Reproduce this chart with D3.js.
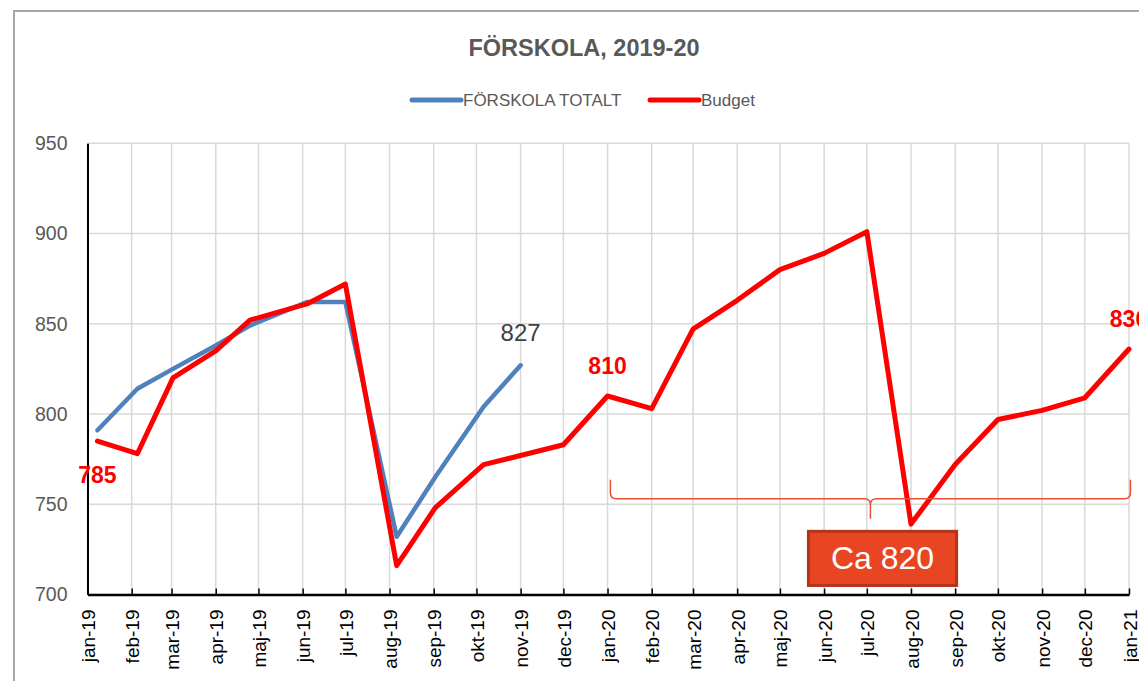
<!DOCTYPE html>
<html lang="sv">
<head>
<meta charset="utf-8">
<script src="https://d3js.org/d3.v7.min.js"></script>
<style>
  body { margin: 0; background: #fff; }
  svg text { font-family: "Liberation Sans", Arial, sans-serif; }
</style>
</head>
<body>
<svg id="chart" width="1139" height="681"></svg>
<script>
// month names used for the x tick labels
var monthNames = ["jan", "feb", "mar", "apr", "maj", "jun", "jul", "aug", "sep", "okt", "nov", "dec"];

// FÖRSKOLA TOTALT (actual), 2019
var actualDates = ["2019-01-08", "2019-02-05", "2019-03-02", "2019-04-01", "2019-04-25", "2019-06-04",
                   "2019-07-01", "2019-08-06", "2019-09-02", "2019-10-06", "2019-11-01"];
var actualValues = [791, 814, 825, 838, 849, 862, 862, 732, 765, 804, 827];

// Budget, 2019 - jan 2021
var budgetDates = ["2019-01-08", "2019-02-05", "2019-03-02", "2019-04-01", "2019-04-25", "2019-06-04",
                   "2019-07-01", "2019-08-06", "2019-09-02", "2019-10-06", "2019-11-01", "2019-12-01",
                   "2020-01-01", "2020-02-01", "2020-03-01", "2020-04-01", "2020-05-01", "2020-06-01",
                   "2020-07-01", "2020-08-01", "2020-09-01", "2020-10-01", "2020-11-01", "2020-12-01",
                   "2021-01-01"];
var budgetValues = [785, 778, 820, 835, 852, 861, 872, 716, 748, 772, 777, 783,
                    810, 803, 847, 863, 880, 889, 901, 739, 772, 797, 802, 809,
                    836];

// points that carry a value label
var budgetLabelIdx = [0, 12, 24];
var actualLabelIdx = [10];

var yTicks = [700, 750, 800, 850, 900, 950];

// annotation: brace over 2020 and the "Ca 820" box
var braceSpan = ["2020-01-03", "2021-01-02"];
var braceLevel = 753;
var noteText = "Ca 820";
var noteSpan = ["2020-05-21", "2020-09-02"];
var noteRange = [705, 735];

var parse = d3.timeParse("%Y-%m-%d");
var actual = actualDates.map((d, i) => ({date: parse(d), value: actualValues[i]}));
var budget = budgetDates.map((d, i) => ({date: parse(d), value: budgetValues[i]}));

var plotL = 87.5, plotR = 1129, plotT = 143.3, plotB = 594.5;

var x = d3.scaleTime()
    .domain([parse("2019-01-01"), parse("2021-01-01")])
    .range([plotL, plotR]);
var y = d3.scaleLinear()
    .domain([700, 950])
    .range([plotB, plotT]);

var svg = d3.select("#chart");

// chart frame
svg.append("rect").attr("x", 14).attr("y", 11).attr("width", 1200).attr("height", 700)
    .attr("fill", "#fff").attr("stroke", "#a6a6a6").attr("stroke-width", 2);

// title
svg.append("text").attr("x", 584).attr("y", 56).attr("text-anchor", "middle")
    .attr("font-size", 23.5).attr("font-weight", "bold").attr("fill", "#595959")
    .text("FÖRSKOLA, 2019-20");

// legend
var legend = [
  {name: "FÖRSKOLA TOTALT", color: "#4f81bd", x: 412},
  {name: "Budget", color: "#ff0000", x: 650}
];
var lg = svg.selectAll("g.legend").data(legend).enter().append("g")
    .attr("class", "legend").attr("transform", d => "translate(" + d.x + ",100)");
lg.append("line").attr("x1", 0).attr("x2", 49).attr("y1", 0).attr("y2", 0)
    .attr("stroke", d => d.color).attr("stroke-width", 5).attr("stroke-linecap", "round");
lg.append("text").attr("x", 51).attr("y", 6).attr("font-size", 17).attr("fill", "#595959")
    .text(d => d.name);

// gridlines
var months = x.ticks(d3.timeMonth.every(1));
svg.append("g").selectAll("line").data(yTicks).enter().append("line")
    .attr("x1", plotL).attr("x2", plotR).attr("y1", d => y(d)).attr("y2", d => y(d))
    .attr("stroke", "#d9d9d9").attr("stroke-width", 1.5);
svg.append("g").selectAll("line").data(months).enter().append("line")
    .attr("x1", d => x(d)).attr("x2", d => x(d)).attr("y1", plotT).attr("y2", plotB)
    .attr("stroke", "#d9d9d9").attr("stroke-width", 1.5);

// y axis
var yAxis = svg.append("g").attr("transform", "translate(" + plotL + ",0)")
    .call(d3.axisLeft(y).tickValues(yTicks).tickSize(0).tickPadding(20));
yAxis.select(".domain").attr("stroke", "#000").attr("stroke-width", 2);
yAxis.selectAll("text").attr("font-size", 19.5).attr("fill", "#595959")
    .attr("font-family", "Liberation Sans, Arial, sans-serif");

// x axis
var xAxis = svg.append("g").attr("transform", "translate(0," + plotB + ")")
    .call(d3.axisBottom(x).tickValues(months).tickSizeInner(-6).tickSizeOuter(0)
      .tickFormat(d => monthNames[d.getMonth()] + "-" + d3.timeFormat("%y")(d)));
xAxis.select(".domain").attr("stroke", "#000").attr("stroke-width", 2.5);
xAxis.selectAll(".tick line").attr("stroke", "#000").attr("stroke-width", 1.5);
xAxis.selectAll("text")
    .attr("transform", "rotate(-90)").attr("text-anchor", "end")
    .attr("x", -15).attr("y", 7).attr("dy", null)
    .attr("font-size", 19).attr("fill", "#000")
    .attr("font-family", "Liberation Sans, Arial, sans-serif");

// lines
var line = d3.line().x(d => x(d.date)).y(d => y(d.value));
svg.append("path").datum(actual).attr("d", line).attr("fill", "none")
    .attr("stroke", "#4f81bd").attr("stroke-width", 4.5)
    .attr("stroke-linejoin", "round").attr("stroke-linecap", "round");
svg.append("path").datum(budget).attr("d", line).attr("fill", "none")
    .attr("stroke", "#ff0000").attr("stroke-width", 5)
    .attr("stroke-linejoin", "round").attr("stroke-linecap", "round");

// value labels
svg.selectAll("text.blab").data(budgetLabelIdx.map(i => budget[i])).enter().append("text")
    .attr("class", "blab").attr("x", d => x(d.date))
    .attr("y", (d, i) => i == 0 ? y(d.value) + 42 : y(d.value) - 22)
    .attr("text-anchor", "middle").attr("font-size", 23).attr("font-weight", "bold")
    .attr("fill", "#ff0000").text(d => d.value);
svg.selectAll("text.alab").data(actualLabelIdx.map(i => actual[i])).enter().append("text")
    .attr("class", "alab").attr("x", d => x(d.date)).attr("y", d => y(d.value) - 24)
    .attr("text-anchor", "middle").attr("font-size", 24).attr("fill", "#404040")
    .text(d => d.value);

// brace
var bx0 = x(parse(braceSpan[0])), bx1 = x(parse(braceSpan[1])), bxm = (bx0 + bx1) / 2, by = y(braceLevel);
var bp = d3.path();
bp.moveTo(bx0, by - 19); bp.lineTo(bx0, by - 6); bp.quadraticCurveTo(bx0, by, bx0 + 6, by);
bp.lineTo(bxm - 6, by); bp.quadraticCurveTo(bxm, by, bxm, by + 6); bp.lineTo(bxm, by + 20);
bp.moveTo(bxm, by + 6); bp.quadraticCurveTo(bxm, by, bxm + 6, by);
bp.lineTo(bx1 - 6, by); bp.quadraticCurveTo(bx1, by, bx1, by - 6); bp.lineTo(bx1, by - 19);
svg.append("path").attr("d", bp.toString()).attr("fill", "none")
    .attr("stroke", "#e8502f").attr("stroke-width", 1.5);

// note box
var nx0 = x(parse(noteSpan[0])), nx1 = x(parse(noteSpan[1]));
svg.append("rect").attr("x", nx0).attr("y", y(noteRange[1]))
    .attr("width", nx1 - nx0).attr("height", y(noteRange[0]) - y(noteRange[1]))
    .attr("fill", "#e84522").attr("stroke", "#b0361c").attr("stroke-width", 3);
svg.append("text").attr("x", (nx0 + nx1) / 2).attr("y", (y(noteRange[0]) + y(noteRange[1])) / 2 + 11)
    .attr("text-anchor", "middle").attr("font-size", 32).attr("fill", "#fff")
    .text(noteText);
</script>
</body>
</html>
